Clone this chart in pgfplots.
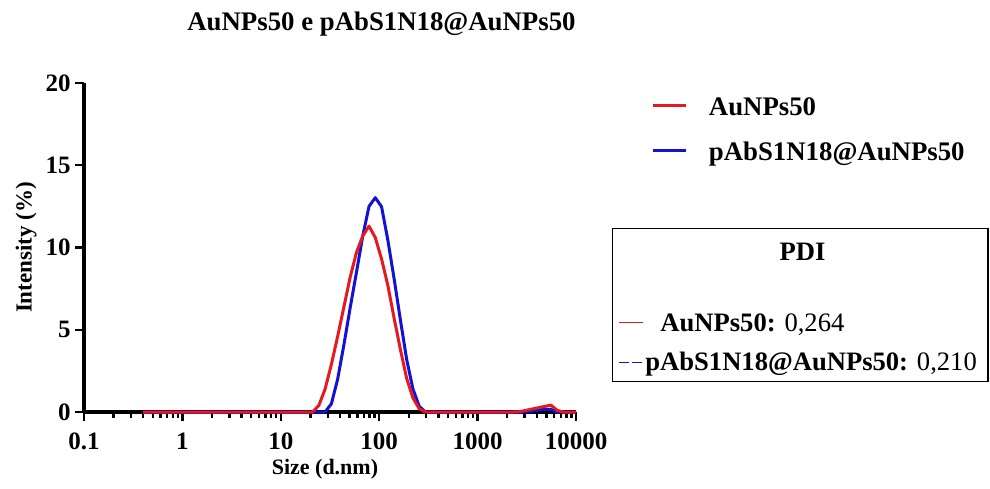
\documentclass[border=0pt]{standalone}
\usepackage{pgfplots}
\pgfplotsset{compat=1.18}
\usepackage{pgfplotstable}
\usepackage{fontspec}
\setmainfont{Liberation Serif}
\definecolor{dlsred}{RGB}{228,26,32}
\definecolor{dlsblue}{RGB}{18,18,212}

\pgfplotstableread{
size red blue
0.4 0 0
0.4632 0 0
0.5365 0 0
0.6213 0 0
0.7195 0 0
0.8332 0 0
0.9649 0 0
1.117 0 0
1.294 0 0
1.499 0 0
1.736 0 0
2.010 0 0
2.328 0 0
2.696 0 0
3.122 0 0
3.615 0 0
4.187 0 0
4.849 0 0
5.615 0 0
6.503 0 0
7.531 0 0
8.721 0 0
10.10 0 0
11.70 0 0
13.54 0 0
15.69 0 0
18.17 0 0
21.04 0 0
24.36 0.4 0
28.21 1.4 0
32.67 2.9 0.5
37.84 4.6 2.0
43.82 6.4 4.1
50.75 8.2 6.35
58.77 9.7 8.5
68.06 10.7 10.7
78.82 11.3 12.5
91.28 10.6 13.03
105.7 9.3 12.48
122.4 7.7 10.45
141.8 5.7 8.1
164.2 3.8 5.6
190.1 2.05 3.2
220.2 0.85 1.4
255.0 0.2 0.35
295.3 0 0
342.0 0 0
396.1 0 0
458.7 0 0
531.2 0 0
615.1 0 0
712.4 0 0
825.0 0 0
955.4 0 0
1106 0 0
1281 0 0
1484 0 0
1718 0 0
1990 0 0
2305 0 0
2669 0.02 0
3091 0.1 0
3580 0.18 0.05
4145 0.26 0.12
4801 0.34 0.16
5560 0.42 0.16
6439 0.1 0
7456 0 0
8635 0 0
10000 0 0
}\dls

\begin{document}
\begin{tikzpicture}
\useasboundingbox (-42pt,-38pt) rectangle (453pt,206pt);
\begin{axis}[
  at={(0pt,0pt)}, anchor=south west,
  scale only axis, width=246pt, height=164.5pt,
  xmode=log, xmin=0.1, xmax=10000, ymin=0, ymax=20,
  clip=false,
  axis lines=left,
  axis line style={-, line width=1.6pt, black},
  xtick={0.1,1,10,100,1000,10000},
  xticklabels={0.1,1,10,100,1000,10000},
  minor xtick={0.2,0.3,0.4,0.5,0.6,0.7,0.8,0.9,2,3,4,5,6,7,8,9,20,30,40,50,60,70,80,90,200,300,400,500,600,700,800,900,2000,3000,4000,5000,6000,7000,8000,9000},
  ytick={0,5,10,15,20},
  tick align=outside,
  major tick length=4.5pt, minor tick length=2.8pt,
  every tick/.style={black, line width=1.2pt},
  /pgf/number format/assume math mode=true,
  ticklabel style={font=\fontsize{12.5}{14}\selectfont\bfseries},
  xticklabel style={anchor=base, inner sep=0pt, yshift=-14pt},
  yticklabel style={anchor=east, inner sep=0pt, xshift=-2pt},
  title={AuNPs50 e pAbS1N18@AuNPs50},
  title style={at={([yshift=20.5pt]axis description cs:0.6047,1)}, anchor=base, inner sep=0pt, font=\fontsize{13.4}{16}\selectfont\bfseries},
  xlabel={Size (d.nm)},
  xlabel style={at={([yshift=-31pt]axis description cs:0.4898,0)}, anchor=base, inner sep=0pt, font=\fontsize{11}{13}\selectfont\bfseries},
  ylabel={Intensity (\%)},
  ylabel style={at={([xshift=-26.2pt]axis description cs:0,0.5)}, anchor=base, inner sep=0pt, font=\fontsize{11.5}{13}\selectfont\bfseries},
  reverse legend,
  legend cell align=left,
  legend style={at={(axis description cs:1.1539,0.9635)}, anchor=north west, draw=none, fill=none, inner sep=0pt, outer sep=0pt,
    font=\fontsize{13.4}{16}\selectfont\bfseries,
    nodes={inner sep=0pt, text height=10pt, text depth=3pt},
    row sep=9.5pt,
    /tikz/every odd column/.append style={column sep=10.5pt}},
  legend image code/.code={\draw[#1, line width=1.5pt] (0pt,1.2pt) -- (16.6pt,1.2pt);},
]
\addplot[dlsblue, line width=1.5pt, line join=round] table[x=size, y=blue] {\dls};
\addlegendentry{pAbS1N18@AuNPs50}
\addplot[dlsred, line width=1.5pt, line join=round] table[x=size, y=red] {\dls};
\addlegendentry{AuNPs50}
\end{axis}
\draw[line width=0.75pt] (264.35pt,15.15pt) rectangle (452pt,91.85pt);
\node[font=\fontsize{13.3}{16}\selectfont\bfseries, inner sep=0pt] at (359.25pt,80.15pt) {PDI};
\draw[dlsred, line width=0.6pt] (267.5pt,44.65pt) -- (279.5pt,44.65pt);
\node[anchor=base west, inner sep=0pt, font=\fontsize{13.3}{16}\selectfont] at (288pt,40.5pt) {\textbf{AuNPs50:} 0,264};
\draw[dlsblue, line width=0.5pt, dash pattern=on 5pt off 1.5pt] (267.5pt,24.65pt) -- (279.5pt,24.65pt);
\node[anchor=base west, inner sep=0pt, font=\fontsize{13.3}{16}\selectfont] at (280.5pt,21pt) {\textbf{pAbS1N18@AuNPs50:} 0,210};
\end{tikzpicture}
\end{document}
